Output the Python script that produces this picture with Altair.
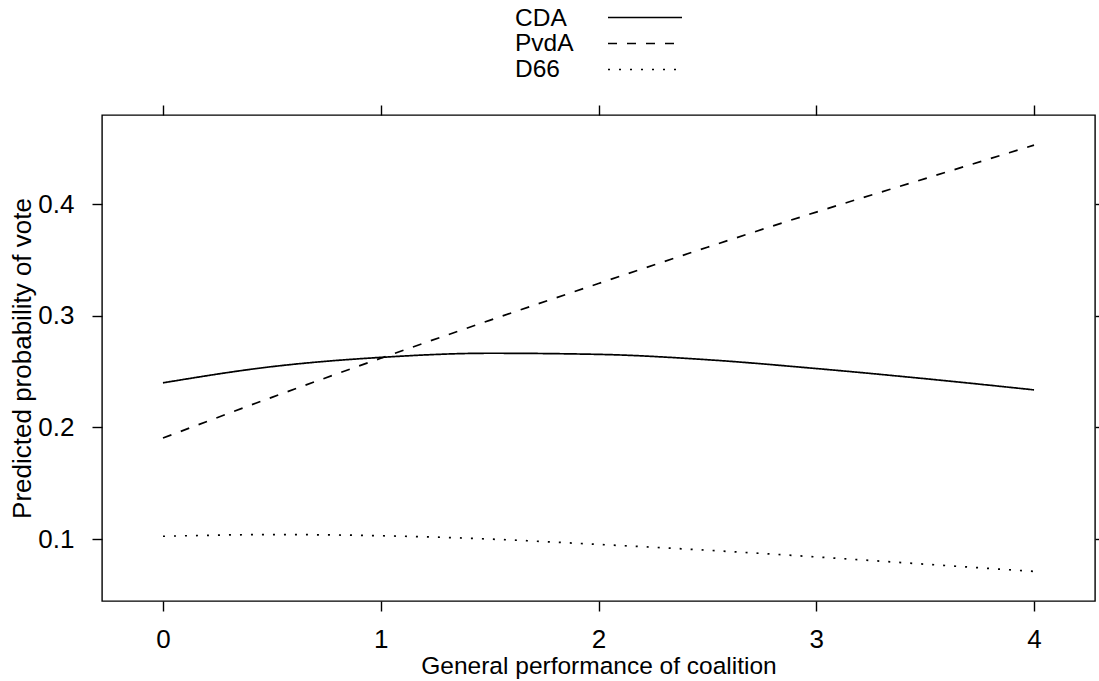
import altair as alt
import pandas as pd

# Values
x_vals = [0, 0.5, 1, 1.5, 2, 2.5, 3, 3.5, 4]
cda = [0.2400, 0.2545, 0.2628, 0.2665, 0.2655, 0.2607, 0.2528, 0.2437, 0.2337]
pvda = [0.1905, 0.2270, 0.2620, 0.2960, 0.3290, 0.3615, 0.3930, 0.4230, 0.4530]
d66 = [0.1025, 0.1040, 0.1030, 0.1000, 0.0952, 0.0900, 0.0840, 0.0775, 0.0710]
parties = ["CDA", "PvdA", "D66"]
dashes = [[1, 0], [9, 10], [2, 9]]
x_ticks = [0, 1, 2, 3, 4]
y_ticks = [0.1, 0.2, 0.3, 0.4]

rows = []
for name, series in zip(parties, [cda, pvda, d66]):
    for xv, yv in zip(x_vals, series):
        rows.append({"x": xv, "y": yv, "party": name})
df = pd.DataFrame(rows)

FONT = "Liberation Sans"
xscale = alt.Scale(domain=[-0.28, 4.28], nice=False, zero=False)
yscale = alt.Scale(domain=[0.0445, 0.48], nice=False, zero=False)

common_axis = dict(grid=False, domain=False, tickColor="black", tickWidth=1.4,
                   tickSize=10, labelColor="black", labelFont=FONT,
                   labelFontSize=26, titleFont=FONT,
                   titleColor="black", titleFontWeight="normal")

lines = alt.Chart(df).mark_line(color="black", strokeWidth=1.7, interpolate="monotone").encode(
    x=alt.X("x:Q", scale=xscale,
            axis=alt.Axis(values=x_ticks, orient="bottom", labelPadding=15,
                          title="General performance of coalition", titlePadding=2,
                          titleFontSize=24.5, **common_axis)),
    y=alt.Y("y:Q", scale=yscale,
            axis=alt.Axis(values=y_ticks, orient="left", format=".1f", labelPadding=18,
                          title="Predicted probability of vote", titlePadding=2,
                          titleFontSize=26, **common_axis)),
    strokeDash=alt.StrokeDash(
        "party:N",
        scale=alt.Scale(domain=parties, range=dashes),
        legend=None,
    ),
    detail="party:N",
)

frame_axes = alt.Chart(df).mark_line(opacity=0).encode(
    x=alt.X("x:Q", scale=xscale,
            axis=alt.Axis(values=x_ticks, orient="top", labels=False, title="",
                          **common_axis)),
    y=alt.Y("y:Q", scale=yscale,
            axis=alt.Axis(values=y_ticks, orient="right", labels=False, title="",
                          **common_axis)),
    detail="party:N",
)

# Manual legend (labels left, line samples right), placed above the panel
leg_df = pd.DataFrame({"party": parties})
legend_layers = []
label_y = [-96.5, -71, -45.5]
line_y = [-97.5, -71.5, -45.5]
for i, name in enumerate(parties):
    sub = alt.Chart(leg_df).transform_filter(alt.datum.party == name)
    legend_layers.append(
        sub.mark_text(align="left", baseline="middle", font=FONT, fontSize=24.5,
                      color="black").encode(
            text="party:N", x=alt.value(413), y=alt.value(label_y[i]))
    )
    legend_layers.append(
        sub.mark_rule(color="black", strokeWidth=1.7, strokeDash=dashes[i]).encode(
            x=alt.value(506), x2=alt.value(580), y=alt.value(line_y[i]))
    )

chart = alt.layer(lines, frame_axes, *legend_layers).resolve_axis(
    x="independent", y="independent"
).properties(
    width=993, height=486,
    autosize=alt.AutoSizeParams(type="none"),
    padding={"left": 102, "top": 115, "right": 4, "bottom": 80},
    background="white",
).configure_view(stroke="black", strokeWidth=1.4)

chart.save("out.html", embed_options={"renderer": "svg", "actions": False})
